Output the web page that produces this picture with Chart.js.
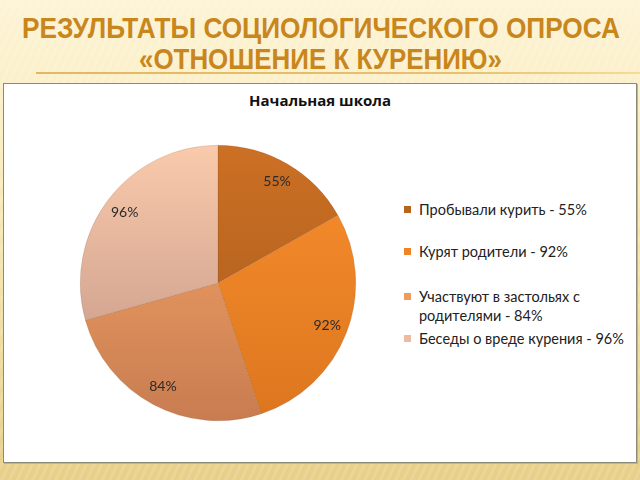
<!DOCTYPE html>
<html><head><meta charset="utf-8">
<script src="https://cdn.jsdelivr.net/npm/chart.js@4/dist/chart.umd.min.js"></script>
<style>
html,body{margin:0;padding:0;}
body{width:640px;height:480px;position:relative;overflow:hidden;
 background:
  repeating-linear-gradient(115deg, rgba(255,255,255,0.12) 0px, rgba(255,255,255,0.12) 3px, rgba(0,0,0,0.0) 3px, rgba(0,0,0,0) 7px),
  linear-gradient(180deg,#fdf4d6 0%,#f8eab8 40%,#ecd898 80%,#e6cf88 100%);}
.tt{position:absolute;left:0;top:0;color:#c8861c;transform-origin:0 0;
 font-family:"Liberation Sans",Arial,sans-serif;font-weight:bold;font-size:30px;line-height:32px;white-space:nowrap;}
#rule{position:absolute;left:36px;top:72px;width:604px;height:2px;
 background:linear-gradient(90deg,#e2b860 0%,#e8c070 70%,#f5dc98 100%);}
#box{position:absolute;left:3px;top:83px;width:632px;height:378px;background:#fff;border:1px solid #8c8a78;box-shadow:1px 1px 0 #b8b4a0;}
#ctitle{position:absolute;left:0;width:640px;top:90px;text-align:center;font-family:"Open Sans",Lato,sans-serif;font-weight:bold;font-size:15px;color:#111;}
#pie{position:absolute;left:70px;top:135px;width:296px;height:296px;}
#legend{position:absolute;left:404px;top:0;font-family:Lato,"Open Sans",sans-serif;font-size:14.5px;color:#222;}
.li{position:absolute;left:0;width:232px;}
.sw{position:absolute;left:0;width:7px;height:7px;}
.tx{position:absolute;left:15px;width:214px;line-height:19px;}
</style></head><body>
<div class="tt" id="t1">РЕЗУЛЬТАТЫ СОЦИОЛОГИЧЕСКОГО ОПРОСА</div>
<div class="tt" id="t2">«ОТНОШЕНИЕ К КУРЕНИЮ»</div>
<div id="rule"></div>
<div id="box"></div>
<div id="ctitle">Начальная школа</div>
<div id="pie"><canvas id="c" width="296" height="296"></canvas></div>
<div id="legend"></div>
<script>
const chartTitle = "Начальная школа";
const categories = ["Пробывали курить - 55%", "Курят родители - 92%", "Участвуют в застольях с родителями - 84%", "Беседы о вреде курения - 96%"];
const values = [55, 92, 84, 96];
const valueLabels = ["55%", "92%", "84%", "96%"];
const gradTop = ["#cc7024", "#f98e2e", "#f9a86a", "#f9caab"];
const gradBot = ["#a65a1c", "#dc761e", "#c87c50", "#c09284"];
const legendColors = ["#b8641e", "#ef8426", "#ef9c5e", "#f0baa0"];

// title fit: [id, left, top, width]
[["t1",22,12,598],["t2",139,43,363]].forEach(([id,l,t,w])=>{
  const e=document.getElementById(id); const nat=e.getBoundingClientRect().width;
  e.style.transform='translate('+l+'px,'+t+'px) scaleX('+(w/nat)+')';
});

const legendTops = [200, 242, 287, 329];
const lg = document.getElementById('legend');
categories.forEach((c,i)=>{
  const d=document.createElement('div');d.className='li';d.style.top=legendTops[i]+'px';
  d.innerHTML='<div class="sw" style="top:6px;background:'+legendColors[i]+'"></div><div class="tx">'+c+'</div>';
  lg.appendChild(d);
});

function grad(ctx, i){
  const chart = ctx.chart; const a = chart.chartArea;
  if(!a) return gradTop[i];
  const g = chart.ctx.createLinearGradient(0, a.top, 0, a.bottom);
  g.addColorStop(0, gradTop[i]); g.addColorStop(1, gradBot[i]);
  return g;
}

const labelPlugin = {
  id:'sliceLabels',
  afterDatasetsDraw(chart){
    const meta = chart.getDatasetMeta(0); const ctx = chart.ctx;
    ctx.save();
    ctx.font = '14px Lato, "Open Sans", sans-serif';
    ctx.fillStyle = '#2a2a2a'; ctx.textAlign='center'; ctx.textBaseline='middle';
    meta.data.forEach((arc,i)=>{
      const p = arc.getProps(['startAngle','endAngle','outerRadius','x','y'], true);
      const mid = (p.startAngle+p.endAngle)/2; const r = p.outerRadius*0.85;
      ctx.fillText(valueLabels[i], p.x + Math.cos(mid)*r, p.y + Math.sin(mid)*r);
    });
    ctx.restore();
  }
};

new Chart(document.getElementById('c'), {
  type:'pie',
  data:{labels:categories, datasets:[{data:values, backgroundColor:(ctx)=>grad(ctx, ctx.dataIndex), borderWidth:0.5, borderColor:'rgba(120,80,50,0.35)'}]},
  options:{responsive:false, animation:false, layout:{padding:10},
    plugins:{legend:{display:false}, title:{display:false}, tooltip:{enabled:false}}},
  plugins:[labelPlugin]
});
</script>
</body></html>
